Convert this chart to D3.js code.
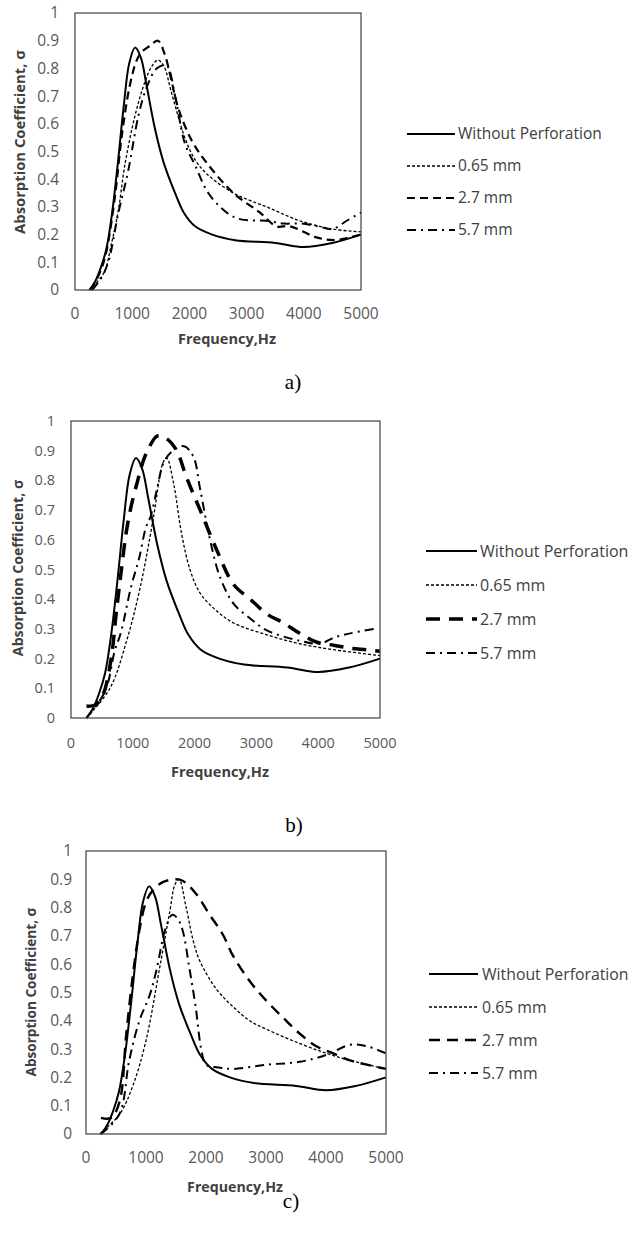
<!DOCTYPE html>
<html>
<head>
<meta charset="utf-8">
<script src="https://cdn.jsdelivr.net/npm/d3@7"></script>
<style>
  body { margin: 0; background: #fff; }
  .tick-label { font-family: "Open Sans", sans-serif; fill: #595959; }
  .axis-title { font-family: "Open Sans", sans-serif; font-weight: bold; fill: #404040; }
  .legend-text { font-family: "Open Sans", sans-serif; fill: #404040; }
  .caption { font-family: "Liberation Serif", serif; fill: #000; }
</style>
</head>
<body>
<div id="chart"></div>
<script>
// tick labels
var freqTicks = [0, 1000, 2000, 3000, 4000, 5000];
var absTicks = [0, 0.1, 0.2, 0.3, 0.4, 0.5, 0.6, 0.7, 0.8, 0.9, 1];
var seriesNames = ["Without Perforation", "0.65 mm", "2.7 mm", "5.7 mm"];
var captions = ["a)", "b)", "c)"];

// [frequency Hz, absorption coefficient]
var noPerf = [[250,0],[350,0.03],[450,0.08],[550,0.15],[650,0.28],[750,0.46],[850,0.66],[950,0.82],[1050,0.875],[1150,0.84],[1250,0.74],[1400,0.58],[1550,0.46],[1750,0.35],[1900,0.28],[2100,0.23],[2400,0.2],[2800,0.18],[3500,0.17],[4000,0.155],[4500,0.17],[5000,0.2]];

// panel a
var a065 = [[250,0],[500,0.06],[640,0.17],[760,0.29],[870,0.45],[1050,0.63],[1220,0.75],[1350,0.81],[1450,0.83],[1550,0.81],[1690,0.71],[1920,0.55],[2100,0.47],[2300,0.42],[2770,0.35],[3350,0.3],[3930,0.25],[4500,0.22],[5000,0.21]];
var a27 = [[280,0],[450,0.07],[550,0.14],[700,0.34],[820,0.56],[960,0.74],[1080,0.83],[1170,0.86],[1300,0.88],[1450,0.9],[1570,0.85],[1660,0.78],[1800,0.66],[2040,0.54],[2300,0.46],[2770,0.35],[3230,0.28],[3520,0.23],[3760,0.23],[4220,0.19],[4520,0.18],[4800,0.19],[5000,0.2]];
var a57 = [[300,0],[450,0.04],[580,0.1],[760,0.28],[930,0.43],[1110,0.63],[1250,0.73],[1430,0.8],[1600,0.81],[1750,0.7],[1920,0.53],[2100,0.45],[2330,0.35],[2650,0.28],[2900,0.255],[3350,0.25],[3650,0.24],[3950,0.24],[4250,0.23],[4500,0.22],[4750,0.25],[5000,0.28]];

// panel b
var b065 = [[250,0],[630,0.1],[900,0.26],[1120,0.44],[1330,0.67],[1490,0.86],[1550,0.875],[1660,0.79],[1790,0.62],[1925,0.5],[2090,0.42],[2360,0.36],[2630,0.32],[3170,0.28],[3700,0.25],[4250,0.23],[5000,0.21]];
var b27 = [[250,0.04],[400,0.045],[520,0.08],[650,0.2],[730,0.35],[810,0.49],[890,0.62],[970,0.71],[1080,0.8],[1160,0.86],[1260,0.91],[1400,0.95],[1550,0.94],[1710,0.9],[1870,0.81],[2090,0.7],[2360,0.565],[2630,0.45],[2900,0.4],[3170,0.35],[3440,0.32],[3700,0.285],[3980,0.255],[4250,0.245],[4520,0.235],[4780,0.23],[5000,0.225]];
var b57 = [[250,0],[500,0.07],[600,0.12],[700,0.22],[810,0.29],[970,0.44],[1105,0.54],[1210,0.64],[1290,0.68],[1400,0.78],[1500,0.86],[1650,0.9],[1830,0.915],[1980,0.88],[2090,0.77],[2250,0.6],[2410,0.475],[2630,0.385],[2900,0.335],[3170,0.295],[3700,0.26],[4030,0.25],[4250,0.27],[4520,0.285],[4900,0.3]];

// panel c
var c065 = [[230,0],[560,0.07],[780,0.17],[1000,0.33],[1230,0.59],[1400,0.79],[1480,0.88],[1550,0.9],[1670,0.8],[1790,0.68],[1900,0.61],[2180,0.51],[2450,0.45],[2730,0.4],[3010,0.37],[3560,0.32],[4010,0.285],[4400,0.26],[5000,0.23]];
var c27 = [[250,0.057],[420,0.057],[560,0.115],[670,0.35],[780,0.56],[890,0.72],[1000,0.82],[1110,0.86],[1280,0.89],[1500,0.9],[1610,0.895],[1830,0.85],[2060,0.775],[2280,0.705],[2450,0.63],[2730,0.54],[3010,0.47],[3290,0.41],[3560,0.355],[3840,0.31],[4120,0.285],[4400,0.26],[4680,0.245],[5000,0.23]];
var c57 = [[250,0],[556,0.07],[720,0.26],[890,0.4],[1060,0.49],[1170,0.575],[1330,0.73],[1440,0.775],[1530,0.76],[1610,0.72],[1720,0.59],[1830,0.445],[1920,0.3],[2000,0.245],[2200,0.235],[2450,0.23],[3010,0.245],[3560,0.255],[4010,0.28],[4400,0.315],[4680,0.31],[5000,0.285]];

var W = 633, H = 1237;
var svg = d3.select("#chart").append("svg")
  .attr("width", W)
  .attr("height", H);

// line look for each series: solid, dotted, dashed, dash-dot
var baseStyles = [
  { width: 2, dash: null },
  { width: 1.3, dash: "3,2" },
  { width: 2.2, dash: "8,5" },
  { width: 2, dash: "9,5,2,5" }
];

var panels = [
  { data: [noPerf, a065, a27, a57], left: 75, right: 361, top: 13, bottom: 290,
    tickSize: 15.5, yLabRight: 59, xLabY: 314, titleSize: 14.8, xTitleSize: 14.5,
    xTitle: [227, 339], yTitle: [20, 142],
    legend: { x1: 407, x2: 455, tx: 458, y0: 134, dy: 32, size: 15.5 },
    caption: [293, 382], dashed: { width: 2.2, dash: "8,5" } },
  { data: [noPerf, b065, b27, b57], left: 71, right: 380, top: 421, bottom: 718,
    tickSize: 14.5, yLabRight: 55, xLabY: 743, titleSize: 14.2, xTitleSize: 14.5,
    xTitle: [220, 772], yTitle: [18, 568],
    legend: { x1: 426, x2: 477, tx: 480, y0: 551, dy: 34, size: 16 },
    caption: [294, 825], dashed: { width: 3.5, dash: "14,9" } },
  { data: [noPerf, c065, c27, c57], left: 86, right: 386, top: 851, bottom: 1134,
    tickSize: 15.5, yLabRight: 72, xLabY: 1158, titleSize: 13.6, xTitleSize: 14.2,
    xTitle: [235, 1187], yTitle: [31, 992],
    legend: { x1: 429, x2: 478, tx: 482, y0: 974, dy: 33, size: 15.8 },
    caption: [291, 1201], dashed: { width: 2.4, dash: "11,7" } }
];

function styleFor(p, i) {
  return i == 2 ? p.dashed : baseStyles[i];
}

function drawPanel(p, idx) {
  var x = d3.scaleLinear().domain([0, 5000]).range([p.left, p.right]);
  var y = d3.scaleLinear().domain([0, 1]).range([p.bottom, p.top]);
  var g = svg.append("g").attr("class", "panel");

  // tick labels only, no tick marks
  g.selectAll(".ylab").data(absTicks).enter().append("text")
    .attr("class", "tick-label")
    .attr("x", p.yLabRight)
    .attr("y", function (d) { return y(d); })
    .attr("dy", "0.35em")
    .attr("text-anchor", "end")
    .attr("font-size", p.tickSize)
    .text(function (d) { return d3.format("~g")(d); });

  g.selectAll(".xlab").data(freqTicks).enter().append("text")
    .attr("class", "tick-label")
    .attr("x", function (d) { return x(d); })
    .attr("y", p.xLabY)
    .attr("dy", "0.35em")
    .attr("text-anchor", "middle")
    .attr("font-size", p.tickSize)
    .text(function (d) { return d; });

  var line = d3.line()
    .x(function (d) { return x(d[0]); })
    .y(function (d) { return y(d[1]); })
    .curve(d3.curveCatmullRom.alpha(0.5));

  p.data.forEach(function (s, i) {
    var st = styleFor(p, i);
    g.append("path")
      .datum(s)
      .attr("d", line)
      .attr("fill", "none")
      .attr("stroke", "#000")
      .attr("stroke-width", st.width)
      .attr("stroke-dasharray", st.dash);
  });

  // plot frame
  g.append("rect")
    .attr("x", p.left)
    .attr("y", p.top)
    .attr("width", p.right - p.left)
    .attr("height", p.bottom - p.top)
    .attr("fill", "none")
    .attr("stroke", "#404040")
    .attr("stroke-width", 1.2);

  g.append("text")
    .attr("class", "axis-title")
    .attr("x", p.xTitle[0])
    .attr("y", p.xTitle[1])
    .attr("dy", "0.35em")
    .attr("text-anchor", "middle")
    .attr("font-size", p.xTitleSize)
    .text("Frequency,Hz");

  g.append("text")
    .attr("class", "axis-title")
    .attr("transform", "translate(" + p.yTitle[0] + "," + p.yTitle[1] + ") rotate(-90)")
    .attr("dy", "0.35em")
    .attr("text-anchor", "middle")
    .attr("font-size", p.titleSize)
    .text("Absorption Coefficient, σ");

  // legend
  var lg = p.legend;
  seriesNames.forEach(function (name, i) {
    var st = styleFor(p, i);
    var ly = lg.y0 + i * lg.dy;
    g.append("line")
      .attr("x1", lg.x1).attr("x2", lg.x2)
      .attr("y1", ly).attr("y2", ly)
      .attr("stroke", "#000")
      .attr("stroke-width", st.width)
      .attr("stroke-dasharray", st.dash);
    g.append("text")
      .attr("class", "legend-text")
      .attr("x", lg.tx)
      .attr("y", ly)
      .attr("dy", "0.35em")
      .attr("font-size", lg.size)
      .text(name);
  });

  g.append("text")
    .attr("class", "caption")
    .attr("x", p.caption[0])
    .attr("y", p.caption[1])
    .attr("dy", "0.35em")
    .attr("text-anchor", "middle")
    .attr("font-size", 21)
    .text(captions[idx]);
}

panels.forEach(drawPanel);
</script>
</body>
</html>
